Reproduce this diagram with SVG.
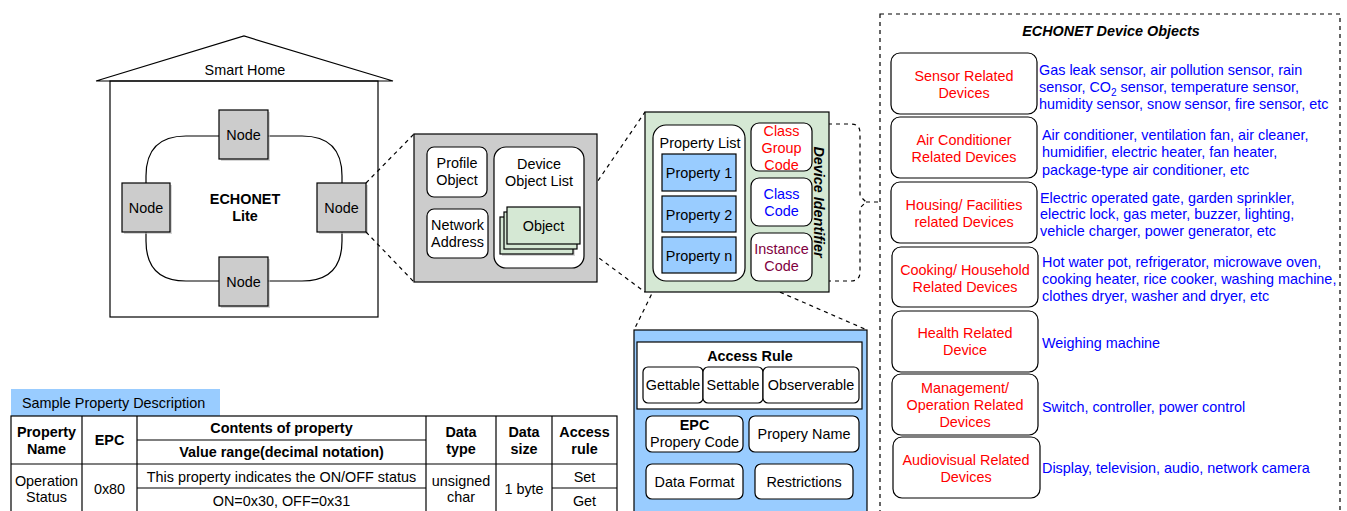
<svg xmlns="http://www.w3.org/2000/svg" width="1347" height="511" viewBox="0 0 1347 511">
<style>
text{font-family:"Liberation Sans",Arial,sans-serif;font-size:14.4px;fill:#000;text-anchor:middle}
.b{font-weight:bold}
.bi{font-weight:bold;font-style:italic}
.l{text-anchor:start}
.red{fill:#ff0000}
.blue{fill:#0000ff}
.mar{fill:#800040}
.box{fill:#fff;stroke:#000;stroke-width:1.2}
.node{fill:#cccccc;stroke:#000;stroke-width:1.2}
.sh{fill:#bbbbbb;stroke:none;opacity:0.6}
.dash{fill:none;stroke:#000;stroke-width:1.2;stroke-dasharray:4 4}
.ln{fill:none;stroke:#000;stroke-width:1.2}
.prop{fill:#99ccff;stroke:#000;stroke-width:1.2}
.obj{fill:#d5e8d4;stroke:#000;stroke-width:1.2}
</style>

<g id="house">
<polyline class="ln" points="96,81 244,36 393,81 96,81"/>
<rect class="ln" x="110" y="81" width="268" height="236"/>
<text x="245" y="75">Smart Home</text>
<path class="ln" d="M186,136 H302 Q342,136 342,176 V241 Q342,281 302,281 H186 Q146,281 146,241 V176 Q146,136 186,136 Z"/>
<text class="b" x="245" y="204">ECHONET</text>
<text class="b" x="245" y="221">Lite</text>
</g>

<g id="node-top"><rect class="sh" x="221" y="112" width="49" height="49"/><rect class="node" x="219" y="110" width="49" height="49"/><text x="243.5" y="140">Node</text></g>
<g id="node-left"><rect class="sh" x="124" y="185" width="48" height="49"/><rect class="node" x="122" y="183" width="48" height="49"/><text x="146" y="213">Node</text></g>
<g id="node-right"><rect class="sh" x="319" y="185" width="49" height="49"/><rect class="node" x="317" y="183" width="49" height="49"/><text x="341.5" y="213">Node</text></g>
<g id="node-bottom"><rect class="sh" x="221" y="259" width="49" height="49"/><rect class="node" x="219" y="257" width="49" height="49"/><text x="243.5" y="287">Node</text></g>

<g id="connectors">
<line class="dash" x1="366" y1="183" x2="414" y2="134"/>
<line class="dash" x1="366" y1="232" x2="414" y2="282"/>
<line class="dash" x1="580" y1="207" x2="645" y2="112"/>
<line class="dash" x1="580" y1="244" x2="645" y2="292"/>
<line class="dash" x1="662" y1="273" x2="634" y2="330"/>
<line class="dash" x1="736" y1="273" x2="867" y2="330"/>
<path class="dash" d="M812,124 H851 Q860,124 860,133 V196 L866,202 L860,208 V272 Q860,281 851,281 H812"/>
<line class="dash" x1="866" y1="202" x2="880" y2="202"/>
</g>

<g id="node-object">
<rect fill="#cccccc" stroke="#000" stroke-width="1.2" x="414" y="134" width="183" height="148"/>
<rect class="box" x="427" y="147" width="60" height="50" rx="7"/>
<text x="457" y="168">Profile</text><text x="457" y="185">Object</text>
<rect class="box" x="427" y="209" width="61" height="49" rx="7"/>
<text x="457.5" y="230">Network</text><text x="457.5" y="247">Address</text>
<rect class="box" x="494" y="147" width="90" height="121" rx="12"/>
<text x="539" y="169">Device</text><text x="539" y="186">Object List</text>
<rect class="sh" x="502" y="219" width="73" height="37"/>
<rect class="obj" x="500" y="217" width="73" height="37"/>
<rect class="obj" x="504" y="212" width="73" height="37"/>
<rect class="obj" x="507" y="207" width="73" height="37"/>
<text x="543.5" y="231">Object</text>
</g>

<g id="node-device">
<rect fill="#d5e8d4" stroke="#000" stroke-width="1.2" x="645" y="112" width="184" height="180"/>
<rect class="box" x="653" y="125" width="92" height="156" rx="13"/>
<text x="700" y="148">Property List</text>
<rect class="prop" x="662" y="154" width="74" height="37"/>
<text x="699" y="178">Property 1</text>
<rect class="prop" x="662" y="196" width="74" height="36"/>
<text x="699" y="220">Property 2</text>
<rect class="prop" x="662" y="237" width="74" height="36"/>
<text x="699" y="261">Property n</text>
<rect class="box" x="751" y="123" width="61" height="48" rx="8"/>
<text class="red" x="781.5" y="136">Class</text><text class="red" x="781.5" y="153">Group</text><text class="red" x="781.5" y="170">Code</text>
<rect class="box" x="751" y="178" width="61" height="48" rx="8"/>
<text class="blue" x="781.5" y="199">Class</text><text class="blue" x="781.5" y="216">Code</text>
<rect class="box" x="751" y="233" width="61" height="48" rx="8"/>
<text class="mar" x="781.5" y="254">Instance</text><text class="mar" x="781.5" y="271">Code</text>
<text class="bi" transform="translate(814,202) rotate(90)">Device Identifier</text>
</g>

<g id="node-property">
<rect fill="#99ccff" stroke="#000" stroke-width="1.2" x="634" y="330" width="233" height="190"/>
<rect class="box" x="637" y="342" width="225" height="67"/>
<text class="b" x="750" y="361">Access Rule</text>
<rect class="box" x="643" y="367" width="60" height="36" rx="5"/>
<text x="673" y="390">Gettable</text>
<rect class="box" x="703" y="367" width="60" height="36" rx="5"/>
<text x="733" y="390">Settable</text>
<rect class="box" x="763" y="367" width="96" height="36" rx="5"/>
<text x="811" y="390">Observerable</text>
<rect class="box" x="646" y="416" width="97" height="36" rx="6"/>
<text class="b" x="694.5" y="430">EPC</text><text x="694.5" y="447">Propery Code</text>
<rect class="box" x="749" y="416" width="110" height="36" rx="6"/>
<text x="804" y="439">Propery Name</text>
<rect class="box" x="646" y="464" width="97" height="35" rx="6"/>
<text x="694.5" y="487">Data Format</text>
<rect class="box" x="755" y="464" width="98" height="35" rx="6"/>
<text x="804" y="487">Restrictions</text>
</g>

<g id="table">
<rect x="11" y="389" width="209" height="27" fill="#99ccff"/>
<text class="l" x="22" y="408">Sample Property Description</text>
<g class="ln">
<rect x="11" y="416" width="606" height="100"/>
<line x1="82" y1="416" x2="82" y2="516"/>
<line x1="137" y1="416" x2="137" y2="516"/>
<line x1="426" y1="416" x2="426" y2="516"/>
<line x1="496" y1="416" x2="496" y2="516"/>
<line x1="552" y1="416" x2="552" y2="516"/>
<line x1="137" y1="440" x2="426" y2="440"/>
<line x1="11" y1="464" x2="617" y2="464"/>
<line x1="137" y1="488" x2="426" y2="488"/>
<line x1="552" y1="488" x2="617" y2="488"/>
</g>
<text class="b" x="46.5" y="437">Property</text><text class="b" x="46.5" y="454">Name</text>
<text class="b" x="109.5" y="445">EPC</text>
<text class="b" x="281.5" y="433">Contents of property</text>
<text class="b" x="281.5" y="457">Value range(decimal notation)</text>
<text class="b" x="461" y="437">Data</text><text class="b" x="461" y="454">type</text>
<text class="b" x="524" y="437">Data</text><text class="b" x="524" y="454">size</text>
<text class="b" x="584.5" y="437">Access</text><text class="b" x="584.5" y="454">rule</text>
<text x="46.5" y="486">Operation</text><text x="46.5" y="502">Status</text>
<text x="109.5" y="494">0x80</text>
<text x="281.5" y="482">This property indicates the ON/OFF status</text>
<text x="281.5" y="506">ON=0x30, OFF=0x31</text>
<text x="461" y="486">unsigned</text><text x="461" y="502">char</text>
<text x="524" y="494">1 byte</text>
<text x="584.5" y="482">Set</text>
<text x="584.5" y="506">Get</text>
</g>

<g id="device-objects">
<rect class="dash" x="880" y="14" width="460" height="510"/>
<text class="bi" x="1111" y="36">ECHONET Device Objects</text>
</g>

<g id="node-sensor">
<rect class="box" x="891" y="53" width="146" height="61" rx="9"/>
<text class="red" x="964" y="81">Sensor Related</text><text class="red" x="964" y="98">Devices</text>
<text class="blue l" x="1039" y="75">Gas leak sensor, air pollution sensor, rain</text>
<text class="blue l" x="1039" y="92">sensor, CO<tspan font-size="10" dy="4">2</tspan><tspan dy="-4"> sensor, temperature sensor,</tspan></text>
<text class="blue l" x="1039" y="109">humidity sensor, snow sensor, fire sensor, etc</text>
</g>
<g id="node-air">
<rect class="box" x="891" y="117" width="146" height="61" rx="9"/>
<text class="red" x="964" y="145">Air Conditioner</text><text class="red" x="964" y="162">Related Devices</text>
<text class="blue l" x="1042" y="140">Air conditioner, ventilation fan, air cleaner,</text>
<text class="blue l" x="1042" y="157">humidifier, electric heater, fan heater,</text>
<text class="blue l" x="1042" y="175">package-type air conditioner, etc</text>
</g>
<g id="node-housing">
<rect class="box" x="891" y="182" width="146" height="61" rx="9"/>
<text class="red" x="964" y="210">Housing/ Facilities</text><text class="red" x="964" y="227">related Devices</text>
<text class="blue l" x="1040" y="203">Electric operated gate, garden sprinkler,</text>
<text class="blue l" x="1040" y="219">electric lock, gas meter, buzzer, lighting,</text>
<text class="blue l" x="1040" y="236">vehicle charger, power generator, etc</text>
</g>
<g id="node-cooking">
<rect class="box" x="892" y="247" width="146" height="60" rx="9"/>
<text class="red" x="965" y="275">Cooking/ Household</text><text class="red" x="965" y="292">Related Devices</text>
<text class="blue l" x="1042" y="267">Hot water pot, refrigerator, microwave oven,</text>
<text class="blue l" x="1042" y="284">cooking heater, rice cooker, washing machine,</text>
<text class="blue l" x="1042" y="301">clothes dryer, washer and dryer, etc</text>
</g>
<g id="node-health">
<rect class="box" x="892" y="311" width="146" height="61" rx="9"/>
<text class="red" x="965" y="338">Health Related</text><text class="red" x="965" y="355">Device</text>
<text class="blue l" x="1042" y="348">Weighing machine</text>
</g>
<g id="node-management">
<rect class="box" x="892" y="374" width="146" height="61" rx="9"/>
<text class="red" x="965" y="393">Management/</text><text class="red" x="965" y="410">Operation Related</text><text class="red" x="965" y="427">Devices</text>
<text class="blue l" x="1042" y="412">Switch, controller, power control</text>
</g>
<g id="node-audiovisual">
<rect class="box" x="893" y="437" width="147" height="61" rx="9"/>
<text class="red" x="966" y="465">Audiovisual Related</text><text class="red" x="966" y="482">Devices</text>
<text class="blue l" x="1042" y="473">Display, television, audio, network camera</text>
</g>
</svg>
